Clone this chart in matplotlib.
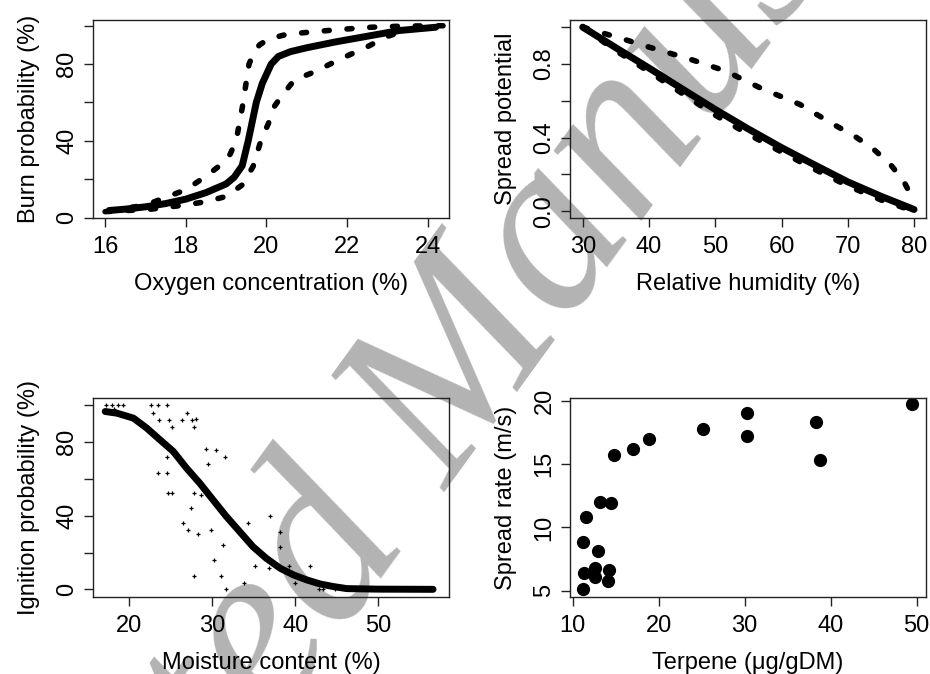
import matplotlib
matplotlib.use("Agg")
import matplotlib.pyplot as plt

plt.rcParams['font.family'] = ['Liberation Sans', 'DejaVu Sans']

# panel a: burn probability vs oxygen
oxy_x = [16.1, 16.5, 17.0, 17.5, 18.0, 18.5, 19.0, 19.2, 19.4, 19.55, 19.75, 19.9, 20.12, 20.3, 20.6, 21.0, 21.7, 22.5, 23.3, 24.2]
oxy_fit = [3.7, 4.4, 5.6, 7.3, 9.6, 13.0, 17.5, 21.0, 27.0, 40.0, 60.0, 70.0, 80.0, 84.0, 86.5, 88.5, 91.5, 94.5, 97.5, 99.2]
oxy_up_x = [16.1, 17.0, 18.0, 18.5, 18.9, 19.1, 19.25, 19.4, 19.57, 19.7, 19.83, 20.05, 20.5, 21.0, 21.8, 22.6, 23.4, 24.5]
oxy_up = [3.5, 6.5, 14.5, 21.5, 28.0, 33.0, 40.0, 57.0, 80.0, 86.5, 90.0, 93.0, 95.5, 96.5, 98.0, 99.2, 99.8, 100.0]
oxy_lo_x = [16.0, 17.1, 18.0, 18.5, 19.0, 19.4, 19.67, 19.87, 20.05, 20.2, 20.4, 20.7, 21.2, 21.8, 22.5, 23.0, 23.5, 24.1]
oxy_lo = [3.1, 4.3, 6.6, 8.3, 11.0, 17.0, 26.6, 40.5, 49.0, 58.0, 64.0, 71.8, 76.0, 82.3, 89.0, 94.4, 98.0, 99.3]

# panel b: spread potential vs relative humidity
rh_x = [30, 35, 40, 45, 50, 55, 60, 65, 70, 75, 80]
rh_fit = [1.0, 0.888, 0.778, 0.665, 0.553, 0.447, 0.346, 0.252, 0.160, 0.082, 0.010]
rh_lo = [1.0, 0.872, 0.758, 0.640, 0.522, 0.418, 0.322, 0.228, 0.138, 0.062, 0.0]
rh_up_x = [30, 33, 36.6, 39.7, 42.7, 45.7, 48.7, 51.7, 54.2, 56.8, 59.8, 62.8, 65.3, 68.3, 71, 73.9, 76.4, 78.4, 79.7, 80]
rh_up = [1.0, 0.968, 0.93, 0.895, 0.863, 0.832, 0.796, 0.76, 0.715, 0.67, 0.625, 0.58, 0.526, 0.463, 0.409, 0.337, 0.256, 0.166, 0.076, 0.05]

# panel c: ignition probability vs moisture content
mc_x = [17.1, 18.5, 20.5, 22.1, 23.7, 25.3, 26.9, 28.5, 30.1, 31.7, 33.3, 34.9, 36.5, 38.2, 39.8, 41.4, 43.0, 44.6, 46.2, 50.0, 56.6]
mc_fit = [96.7, 95.8, 93.1, 87.7, 81.3, 75.0, 65.9, 57.7, 48.6, 39.6, 31.4, 23.2, 16.9, 11.4, 7.8, 5.1, 2.9, 1.5, 0.4, 0.1, 0.0]
mc_obs_x = [17.2, 17.9, 18.2, 18.7, 19.3, 22.6, 23.5, 24.5,
            22.9, 23.6, 24.8, 25.2, 26.3, 27.0, 27.5, 27.8, 28.0,
            24.6, 23.5, 24.6, 24.7, 25.2, 27.8, 28.7, 29.2, 29.5, 30.5, 31.5,
            27.4, 26.5, 27.1, 28.3, 29.9, 31.3, 30.2, 27.8, 31.1, 31.7, 33.8,
            34.3, 36.9, 38.1, 38.1, 35.1, 36.8, 39.2, 41.8, 40.0, 42.8, 43.3, 44.8]
mc_obs_y = [100, 100, 98, 100, 100, 100, 100, 100,
            95.8, 92.1, 92.1, 88.2, 92.1, 95.8, 92.1, 88.2, 92.7,
            72.2, 63.5, 63.5, 52.3, 52.3, 52.3, 51.4, 76.2, 68.2, 75.5, 71.9,
            44.1, 35.9, 32.3, 30.1, 32.3, 24.1, 16.0, 7.3, 7.3, 0, 3.3,
            35.9, 39.9, 31.3, 23.2, 12.7, 11.4, 12.7, 12.7, 3.3, 0, 0, 0]

# panel d: spread rate vs terpene
terp = [49.4, 30.3, 30.3, 38.3, 38.7, 25.1, 18.9, 17.0, 14.8, 13.2, 14.5, 11.55, 11.2, 12.9, 11.3, 12.6, 12.6, 14.2, 14.1, 11.2]
rate = [19.71, 19.0, 17.24, 18.34, 15.32, 17.76, 16.97, 16.18, 15.71, 12.03, 11.95, 10.79, 8.82, 8.13, 6.37, 6.77, 6.1, 6.63, 5.77, 5.13]

FS = 17
dash = (0, (0.9, 3.2))

fig = plt.figure(figsize=(9.3, 6.74), dpi=100)
# watermark sits behind the panels
fig.text(0.488, 0.411, "Accepted Manuscript", fontsize=175, family="Liberation Serif",
         style="italic", color="#b3b3b3", rotation=54, rotation_mode="anchor",
         ha="center", va="center", zorder=-1)

ax1 = fig.add_axes([0.1, 0.6766, 0.3828, 0.2938])
ax2 = fig.add_axes([0.6129, 0.6766, 0.3825, 0.2938])
ax3 = fig.add_axes([0.1, 0.1147, 0.3828, 0.2944])
ax4 = fig.add_axes([0.6129, 0.1147, 0.3825, 0.2944])

ax1.plot(oxy_x, oxy_fit, color="k", lw=5, solid_capstyle="round")
ax1.plot(oxy_up_x, oxy_up, color="k", lw=4, ls=dash, dash_capstyle="round")
ax1.plot(oxy_lo_x, oxy_lo, color="k", lw=4, ls=dash, dash_capstyle="round")
ax1.set_xlim(15.7, 24.53)
ax1.set_ylim(-0.2, 103)
ax1.set_xticks([16, 18, 20, 22, 24])
ax1.set_yticks([0, 20, 40, 60, 80, 100])
ax1.set_yticklabels(["0", "", "40", "", "80", ""])
ax1.set_xlabel("Oxygen concentration (%)")
ax1.set_ylabel("Burn probability (%)")

ax2.plot(rh_x, rh_lo, color="k", lw=4, ls=dash, dash_capstyle="round")
ax2.plot(rh_x, rh_fit, color="k", lw=5, solid_capstyle="round")
ax2.plot(rh_up_x, rh_up, color="k", lw=4, ls=dash, dash_capstyle="round")
ax2.set_xlim(28.08, 81.76)
ax2.set_ylim(-0.036, 1.039)
ax2.set_xticks([30, 40, 50, 60, 70, 80])
ax2.set_yticks([0, 0.2, 0.4, 0.6, 0.8, 1.0])
ax2.set_yticklabels(["0.0", "", "0.4", "", "0.8", ""])
ax2.set_xlabel("Relative humidity (%)")
ax2.set_ylabel("Spread potential")

ax3.plot(mc_obs_x, mc_obs_y, ls="none", marker="+", ms=3.5, mew=0.9, color="k")
ax3.plot(mc_x, mc_fit, color="k", lw=5, solid_capstyle="round")
ax3.set_xlim(15.63, 58.52)
ax3.set_ylim(-4.0, 103.9)
ax3.set_xticks([20, 30, 40, 50])
ax3.set_yticks([0, 20, 40, 60, 80, 100])
ax3.set_yticklabels(["0", "", "40", "", "80", ""])
ax3.set_xlabel("Moisture content (%)")
ax3.set_ylabel("Ignition probability (%)")

ax4.plot(terp, rate, ls="none", marker="o", ms=8.5, color="k")
ax4.set_xlim(9.69, 51.05)
ax4.set_ylim(4.53, 20.19)
ax4.set_xticks([10, 20, 30, 40, 50])
ax4.set_yticks([5, 10, 15, 20])
ax4.set_xlabel("Terpene (\u03bcg/gDM)")
ax4.set_ylabel("Spread rate (m/s)")

for ax in [ax1, ax2, ax3, ax4]:
    ax.set_facecolor("none")
    for s in ax.spines.values():
        s.set_linewidth(1.0)
        s.set_color("#222222")
    ax.tick_params(length=6.5, width=1.0, color="#222222", labelsize=FS, pad=6.5)
    ax.tick_params(axis="y", pad=4)
    for lab in ax.get_yticklabels():
        lab.set_rotation(90)
        lab.set_va("center")
    ax.xaxis.label.set_size(FS)
    ax.yaxis.label.set_size(FS)
    ax.xaxis.labelpad = 11
    ax.yaxis.labelpad = 12

fig.savefig("out.png", dpi=100)
